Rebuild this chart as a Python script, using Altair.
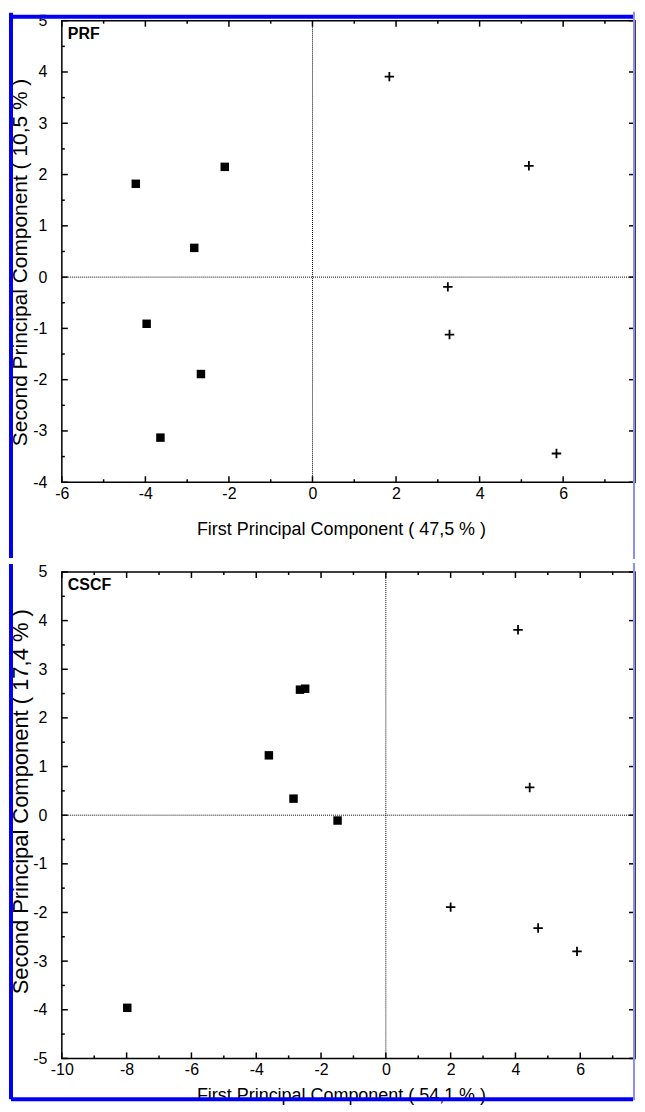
import altair as alt
import pandas as pd

# ---------------- data ----------------
# Panel 1: PRF
prf_sq_x = [-4.23, -2.10, -2.83, -3.97, -2.67, -3.64]
prf_sq_y = [1.82, 2.15, 0.57, -0.91, -1.89, -3.13]
prf_pl_x = [1.84, 5.18, 3.24, 3.28, 5.84]
prf_pl_y = [3.91, 2.17, -0.19, -1.12, -3.44]

# Panel 2: CSCF
cscf_sq_x = [-2.65, -2.49, -3.61, -2.85, -1.49, -7.98]
cscf_sq_y = [2.58, 2.60, 1.23, 0.34, -0.11, -3.96]
cscf_pl_x = [4.08, 4.44, 2.00, 4.70, 5.90]
cscf_pl_y = [3.81, 0.57, -1.89, -2.32, -2.80]

# tick values
prf_x_major = [-6, -4, -2, 0, 2, 4, 6]
prf_x_minor = [-5, -3, -1, 1, 3, 5, 7]
prf_y_major = [-4, -3, -2, -1, 0, 1, 2, 3, 4, 5]
prf_y_minor = [-3.5, -2.5, -1.5, -0.5, 0.5, 1.5, 2.5, 3.5, 4.5]

cscf_x_major = [-10, -8, -6, -4, -2, 0, 2, 4, 6]
cscf_x_minor = [-9, -7, -5, -3, -1, 1, 3, 5, 7]
cscf_y_major = [-5, -4, -3, -2, -1, 0, 1, 2, 3, 4, 5]
cscf_y_minor = [-4.5, -3.5, -2.5, -1.5, -0.5, 0.5, 1.5, 2.5, 3.5, 4.5]

prf_label = "PRF"
cscf_label = "CSCF"
prf_xtitle = "First Principal Component ( 47,5 % )"
prf_ytitle = "Second Principal Component ( 10,5 % )"
cscf_xtitle = "First Principal Component ( 54,1 % )"
cscf_ytitle = "Second Principal Component ( 17,4 % )"

FONT = "Liberation Sans"
BLUE = "#0000f4"
LIGHTBLUE = "#8c8cff"
W = 575


def panel(sq_x, sq_y, pl_x, pl_y, xdom, ydom, xmaj, xmin, ymaj, ymin,
          H, label, xtitle, ytitle, x_title_y, y_title_y, y_title_size,
          top_ext, bot_ext, top_band, bottom_band):
    xs = alt.Scale(domain=xdom, nice=False, zero=False)
    ys = alt.Scale(domain=ydom, nice=False, zero=False)
    xaxis = alt.Axis(values=xmaj, title=xtitle, ticks=False, domain=False, grid=False,
                     labelFlush=False, labelOverlap=False, labelPadding=3,
                     labelExpr="'' + datum.value",
                     labelFont=FONT, labelFontSize=16, labelColor="black",
                     titleFont=FONT, titleFontSize=18, titleFontWeight="normal",
                     titleColor="black", titleX=280, titleY=x_title_y,
                     titleBaseline="middle", titleAlign="center")
    yaxis = alt.Axis(values=ymaj, title=ytitle, ticks=False, domain=False, grid=False,
                     labelFlush=False, labelOverlap=False, labelPadding=15,
                     labelExpr="'' + datum.value",
                     labelFont=FONT, labelFontSize=16, labelColor="black",
                     titleFont=FONT, titleFontSize=y_title_size, titleFontWeight="normal",
                     titleColor="black", titleX=-41, titleY=y_title_y,
                     titleBaseline="middle", titleAlign="center")

    def X(f="x"):
        return alt.X(f"{f}:Q", scale=xs, axis=xaxis)

    def Y(f="y"):
        return alt.Y(f"{f}:Q", scale=ys, axis=yaxis)

    one = pd.DataFrame({"d": [0]})
    zero = pd.DataFrame({"x": [0], "y": [0]})

    vline = alt.Chart(zero).mark_rule(color="black", strokeWidth=1, strokeDash=[1, 1]).encode(
        x=X(), y=alt.value(0), y2=alt.value(H))
    hline = alt.Chart(zero).mark_rule(color="black", strokeWidth=1, strokeDash=[1, 1]).encode(
        y=Y(), x=alt.value(0), x2=alt.value(W))

    xmaj_df = pd.DataFrame({"x": xmaj})
    xmin_df = pd.DataFrame({"x": xmin})
    ymaj_df = pd.DataFrame({"y": ymaj})
    ymin_df = pd.DataFrame({"y": ymin})

    tick = dict(color="black", strokeWidth=1.5)
    ticks = [
        alt.Chart(xmaj_df).mark_rule(**tick).encode(x=X(), y=alt.value(H), y2=alt.value(H - 6)),
        alt.Chart(xmaj_df).mark_rule(**tick).encode(x=X(), y=alt.value(0), y2=alt.value(6)),
        alt.Chart(xmin_df).mark_rule(**tick).encode(x=X(), y=alt.value(H), y2=alt.value(H - 3)),
        alt.Chart(xmin_df).mark_rule(**tick).encode(x=X(), y=alt.value(0), y2=alt.value(3)),
        alt.Chart(ymaj_df).mark_rule(**tick).encode(y=Y(), x=alt.value(0), x2=alt.value(6)),
        alt.Chart(ymin_df).mark_rule(**tick).encode(y=Y(), x=alt.value(0), x2=alt.value(3)),
        alt.Chart(ymaj_df).mark_rule(**tick).encode(y=Y(), x=alt.value(W - 6), x2=alt.value(W - 2)),
    ]

    sq = alt.Chart(pd.DataFrame({"x": sq_x, "y": sq_y})).mark_point(
        shape="square", filled=True, size=72, color="black", opacity=1).encode(x=X(), y=Y())
    pl = alt.Chart(pd.DataFrame({"x": pl_x, "y": pl_y})).mark_point(
        shape="M-1,0L1,0M0,-1L0,1", filled=False, size=90, color="black",
        strokeWidth=1.8, opacity=1).encode(x=X(), y=Y())

    txt = alt.Chart(pd.DataFrame({"t": [label]})).mark_text(
        align="left", baseline="middle", font=FONT, fontSize=16, fontWeight="bold",
        color="black").encode(text="t:N", x=alt.value(6), y=alt.value(13))

    deco = []
    # left blue band
    deco.append(alt.Chart(one).mark_rule(color=BLUE, strokeWidth=4).encode(
        x=alt.value(-51), y=alt.value(top_ext + 2), y2=alt.value(bot_ext - 2)))
    # right light-blue line
    deco.append(alt.Chart(one).mark_rule(color=LIGHTBLUE, strokeWidth=2).encode(
        x=alt.value(W - 1), y=alt.value(top_ext + 1), y2=alt.value(bot_ext - 1)))
    if top_band:
        deco.append(alt.Chart(one).mark_rule(color="white", strokeWidth=4).encode(
            y=alt.value(top_ext + 2), x=alt.value(-49), x2=alt.value(W - 2)))
        deco.append(alt.Chart(one).mark_rule(color=BLUE, strokeWidth=4).encode(
            y=alt.value(top_ext + 6), x=alt.value(-51), x2=alt.value(W - 2)))
    if bottom_band:
        deco.append(alt.Chart(one).mark_rule(color=BLUE, strokeWidth=4).encode(
            y=alt.value(bot_ext - 2), x=alt.value(-51), x2=alt.value(W - 2)))

    return alt.layer(vline, hline, *ticks, sq, pl, txt, *deco).properties(width=W, height=H)


top = panel(prf_sq_x, prf_sq_y, prf_pl_x, prf_pl_y, [-6, 7.72], [-4, 5],
            prf_x_major, prf_x_minor, prf_y_major, prf_y_minor,
            463, prf_label, prf_xtitle, prf_ytitle, 47, 242, 21, -10, 463 + 78, True, False)
bottom = panel(cscf_sq_x, cscf_sq_y, cscf_pl_x, cscf_pl_y, [-10, 7.69], [-5, 5],
               cscf_x_major, cscf_x_minor, cscf_y_major, cscf_y_minor,
               488, cscf_label, cscf_xtitle, cscf_ytitle, 37, 230, 22, -10, 488 + 43, False, True)

chart = alt.vconcat(top, bottom, spacing=0).properties(padding=0, background="white").configure_view(
    stroke="black", strokeWidth=1.5)

chart.save("out.html", embed_options={"renderer": "svg", "actions": False})
